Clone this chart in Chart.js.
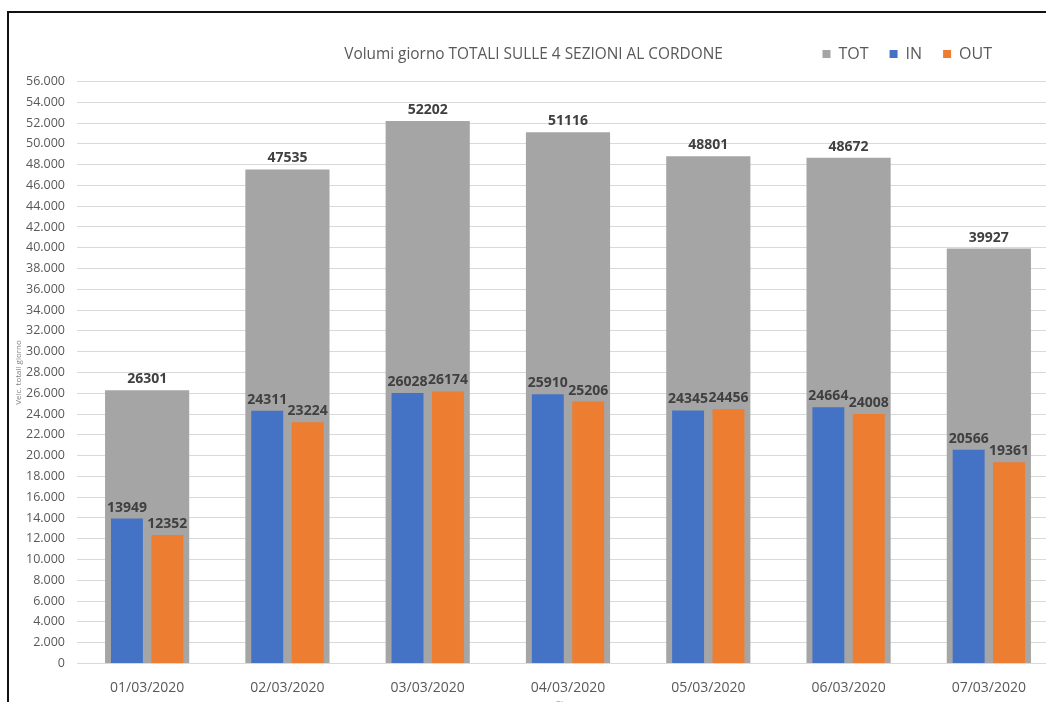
<!DOCTYPE html>
<html>
<head>
<meta charset="utf-8">
<script src="https://cdn.jsdelivr.net/npm/chart.js@4/dist/chart.umd.min.js"></script>
<style>
  html, body { margin: 0; padding: 0; background: #fff; overflow: hidden; width: 1046px; height: 702px; }
  #c { position: absolute; left: 0; top: 0; }
  #frame { position: absolute; left: 7px; top: 11px; width: 1100px; height: 800px; border: 2px solid #111; pointer-events: none; }
</style>
</head>
<body>
<canvas id="c" width="1070" height="720"></canvas>
<div id="frame"></div>
<script>
// Daily traffic volumes at the cordon, 1–7 March 2020
const categories = ['01/03/2020', '02/03/2020', '03/03/2020', '04/03/2020', '05/03/2020', '06/03/2020', '07/03/2020'];
const totValues = [26301, 47535, 52202, 51116, 48801, 48672, 39927];
const inValues  = [13949, 24311, 26028, 25910, 24345, 24664, 20566];
const outValues = [12352, 23224, 26174, 25206, 24456, 24008, 19361];
const yMax = 56000;
const yStep = 2000;

const fmtThousands = v => String(v).replace(/\B(?=(\d{3})+(?!\d))/g, '.');

// Value labels above every bar
const valueLabels = {
  id: 'valueLabels',
  afterDatasetsDraw(chart) {
    const ctx = chart.ctx;
    ctx.save();
    ctx.font = 'bold 14px "Open Sans", sans-serif';
    ctx.fillStyle = '#404040';
    ctx.textAlign = 'center';
    ctx.textBaseline = 'bottom';
    chart.data.datasets.forEach((ds, di) => {
      const meta = chart.getDatasetMeta(di);
      meta.data.forEach((bar, i) => {
        ctx.fillText(String(ds.data[i]), bar.x, bar.y - 4);
      });
    });
    ctx.restore();
  }
};

// Title and legend share one header row
const headerRow = {
  id: 'headerRow',
  afterLayout(chart) {
    const t = chart.titleBlock;
    if (t) {
      const h = t.bottom - t.top;
      t.left = 0; t.right = 1067; t.width = 1067;
      t.top = 55 - h / 2; t.bottom = t.top + h;
    }
    const lg = chart.legend;
    if (lg) {
      const h = lg.bottom - lg.top;
      lg.right = 1013;
      lg.top = 25; lg.bottom = lg.top + h;
    }
  }
};

new Chart(document.getElementById('c'), {
  type: 'bar',
  data: {
    labels: categories,
    datasets: [
      {
        label: 'TOT',
        data: totValues,
        backgroundColor: '#a5a5a5',
        grouped: false,
        order: 1,
        barPercentage: 0.6,
        categoryPercentage: 1
      },
      {
        label: 'IN',
        data: inValues,
        backgroundColor: '#4472c4',
        order: 0,
        barPercentage: 0.79,
        categoryPercentage: 0.576
      },
      {
        label: 'OUT',
        data: outValues,
        backgroundColor: '#ed7d31',
        order: 0,
        barPercentage: 0.79,
        categoryPercentage: 0.576
      }
    ]
  },
  options: {
    responsive: false,
    devicePixelRatio: 1,
    animation: false,
    layout: { padding: { left: 0, right: 11, top: 16, bottom: 0 } },
    plugins: {
      title: {
        display: true,
        text: 'Volumi giorno TOTALI SULLE 4 SEZIONI AL CORDONE',
        color: '#595959',
        font: { family: '"Open Sans", sans-serif', size: 15.4, weight: 'normal' },
        padding: 0
      },
      legend: {
        position: 'top',
        align: 'end',
        labels: {
          sort: (a, b) => a.datasetIndex - b.datasetIndex,
          boxWidth: 8,
          boxHeight: 8,
          padding: 21,
          color: '#595959',
          font: { family: '"Open Sans", sans-serif', size: 16 }
        }
      },
      tooltip: { enabled: false }
    },
    scales: {
      x: {
        grid: { display: false, drawTicks: false },
        border: { display: false },
        ticks: {
          color: '#595959',
          padding: 16,
          font: { family: '"Open Sans", sans-serif', size: 14 }
        },
        title: {
          display: true,
          text: 'Giorno',
          color: '#7f7f7f',
          font: { family: '"Open Sans", sans-serif', size: 8 },
          padding: { top: 0, bottom: 11 }
        },
        afterFit(scale) { scale.height = 56.5; }
      },
      y: {
        min: 0,
        max: yMax,
        grid: { color: '#d9d9d9', drawTicks: false },
        border: { display: false },
        ticks: {
          stepSize: yStep,
          color: '#595959',
          padding: 12,
          font: { family: '"Open Sans", sans-serif', size: 12.5 },
          callback: v => fmtThousands(v)
        },
        title: {
          display: true,
          text: 'Veic. totali giorno',
          color: '#7f7f7f',
          font: { family: '"Open Sans", sans-serif', size: 8 },
          padding: { top: 14, bottom: 0 }
        },
        afterFit(scale) { scale.width = 77; }
      }
    }
  },
  plugins: [valueLabels, headerRow]
});
</script>
</body>
</html>
